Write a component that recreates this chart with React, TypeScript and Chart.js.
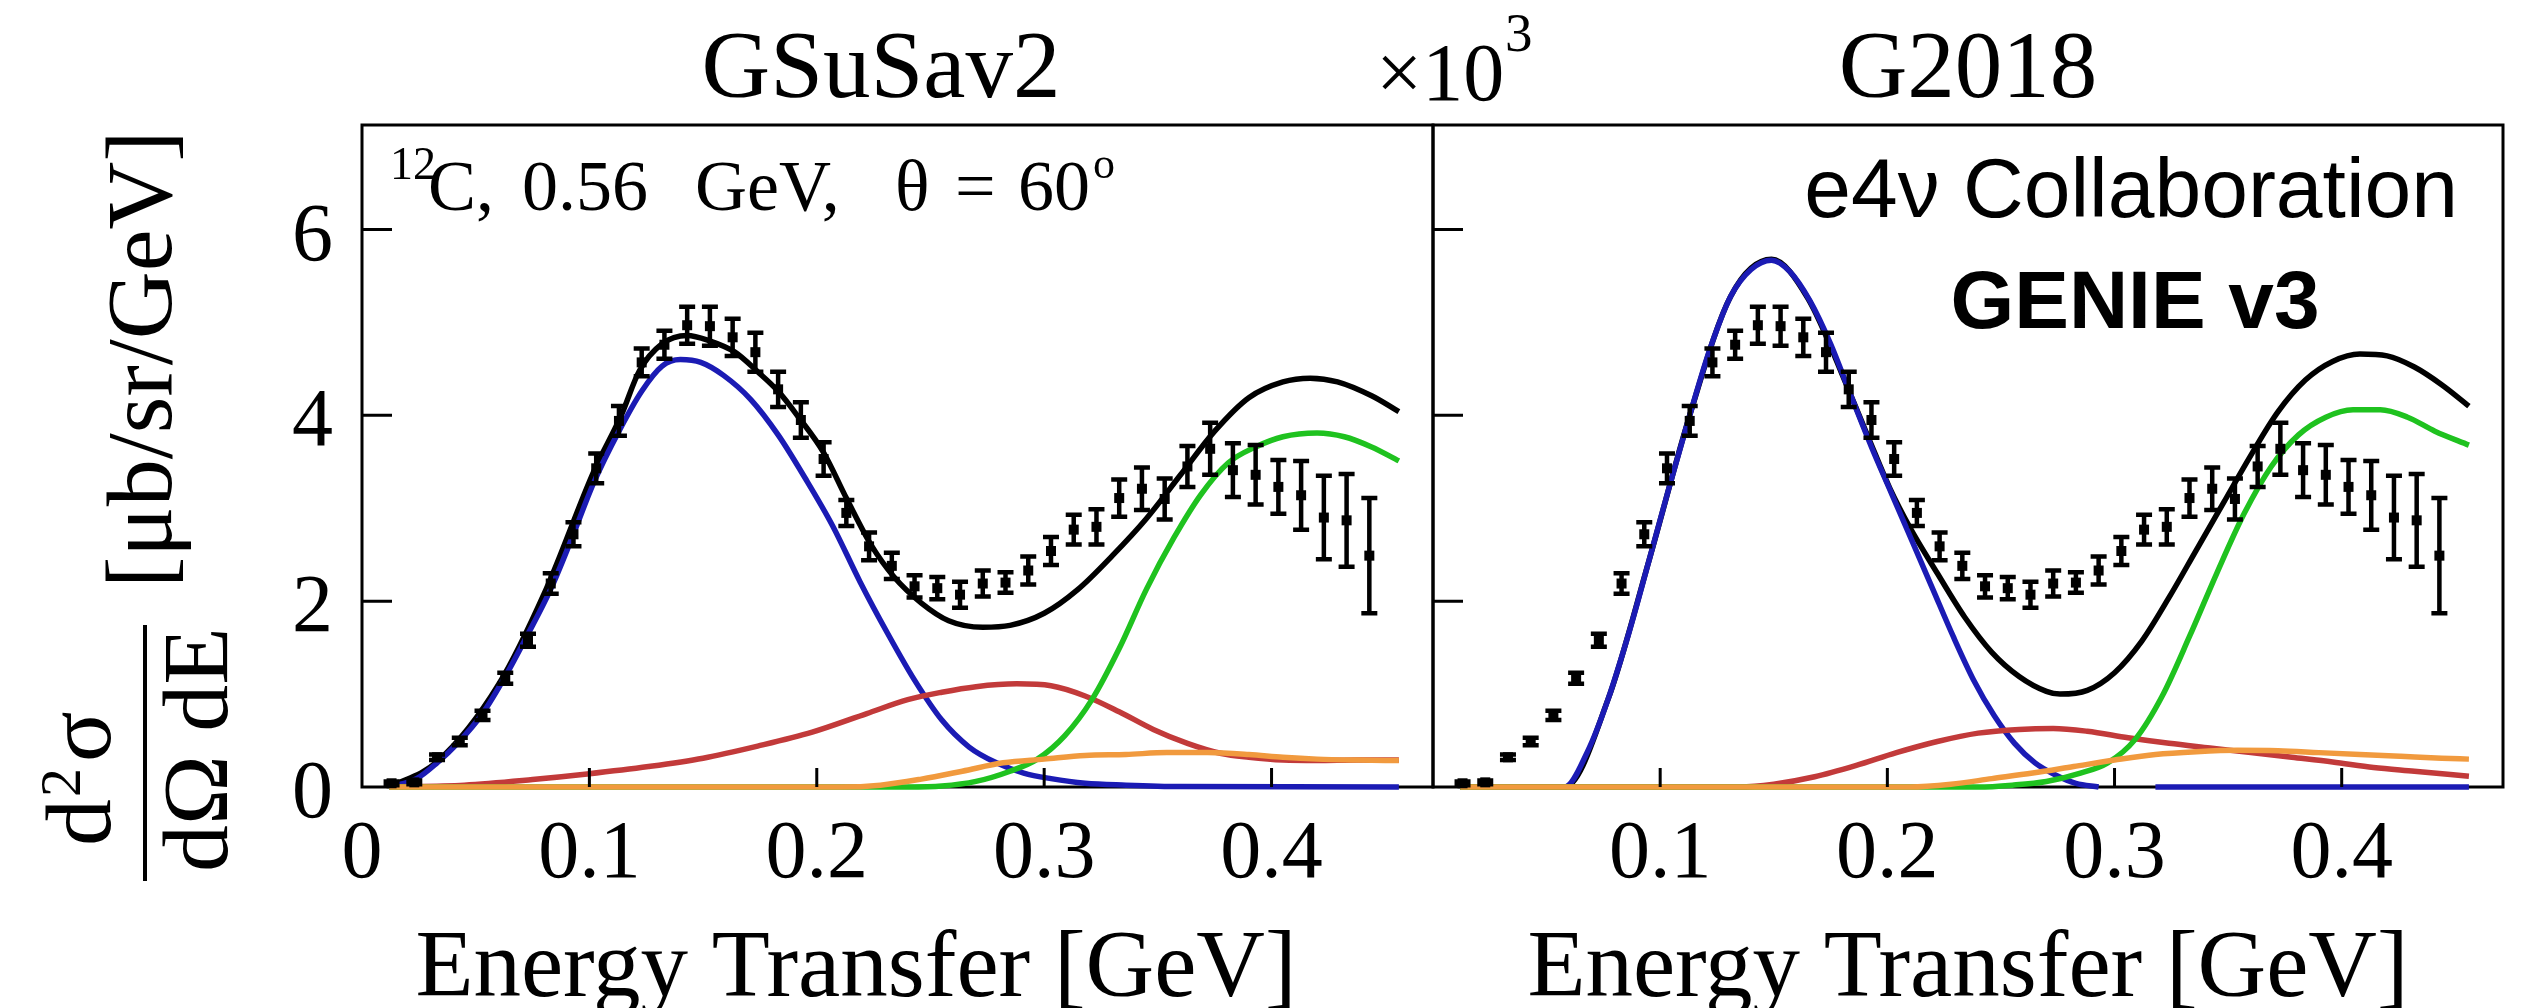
import React, { useEffect, useRef } from 'react';
import { Chart, registerables } from 'chart.js';

Chart.register(...registerables);

const SERIF = '"Liberation Serif", "Times New Roman", serif';
const SANS = '"Liberation Sans", Arial, sans-serif';

// ---- Measured electron-scattering data (same data in both panels) ----
const DATA_E = [
  0.013, 0.023, 0.033, 0.043, 0.053, 0.063, 0.073, 0.083, 0.093, 0.103,
  0.113, 0.123, 0.133, 0.143, 0.153, 0.163, 0.173, 0.183, 0.193, 0.203,
  0.213, 0.223, 0.233, 0.243, 0.253, 0.263, 0.273, 0.283, 0.293, 0.303,
  0.313, 0.323, 0.333, 0.343, 0.353, 0.363, 0.373, 0.383, 0.393, 0.403,
  0.413, 0.423, 0.433, 0.443,
];
const DATA_XS = [
  0.04, 0.05, 0.32, 0.49, 0.77, 1.17, 1.58, 2.19, 2.72, 3.43,
  3.94, 4.57, 4.76, 4.97, 4.96, 4.84, 4.68, 4.28, 3.95, 3.53,
  2.95, 2.59, 2.38, 2.16, 2.14, 2.07, 2.19, 2.2, 2.33, 2.54,
  2.77, 2.8, 3.11, 3.21, 3.1, 3.45, 3.64, 3.41, 3.36, 3.23,
  3.14, 2.9, 2.87, 2.49,
];
const DATA_ERR = [
  0.02, 0.02, 0.03, 0.04, 0.05, 0.06, 0.07, 0.11, 0.13, 0.16,
  0.16, 0.15, 0.15, 0.2, 0.21, 0.2, 0.21, 0.19, 0.19, 0.18,
  0.14, 0.15, 0.14, 0.12, 0.12, 0.14, 0.14, 0.11, 0.15, 0.15,
  0.16, 0.19, 0.2, 0.23, 0.22, 0.22, 0.28, 0.29, 0.32, 0.29,
  0.37, 0.45, 0.5, 0.62,
];

// ---- Axis ticks ----
const X_TICKS = [0, 0.1, 0.2, 0.3, 0.4];
const X_TICK_LABELS = ['0', '0.1', '0.2', '0.3', '0.4'];
const Y_TICKS = [0, 2, 4, 6];
const Y_TICK_LABELS = ['0', '2', '4', '6'];
const X_MAX = 0.471;
const Y_MAX = 7.125;

// ---- GSuSav2 predictions ----
const SUSA_TOT_E = [0.012, 0.033, 0.060, 0.081, 0.102, 0.114, 0.122, 0.132, 0.143, 0.153, 0.164, 0.174, 0.183, 0.192, 0.203, 0.213, 0.224, 0.234, 0.246, 0.258, 0.273, 0.285, 0.300, 0.315, 0.330, 0.345, 0.360, 0.375, 0.390, 0.405, 0.417, 0.429, 0.444, 0.456];
const SUSA_TOT = [0, 0.27, 1.1, 2.13, 3.4, 4.0, 4.48, 4.77, 4.86, 4.8, 4.68, 4.47, 4.26, 3.98, 3.6, 3.11, 2.6, 2.26, 1.98, 1.79, 1.72, 1.74, 1.87, 2.13, 2.49, 2.89, 3.36, 3.83, 4.19, 4.36, 4.4, 4.36, 4.21, 4.04];
const SUSA_QE_E = [0.012, 0.024, 0.033, 0.042, 0.053, 0.063, 0.072, 0.083, 0.092, 0.102, 0.113, 0.123, 0.132, 0.140, 0.149, 0.159, 0.171, 0.183, 0.195, 0.207, 0.219, 0.231, 0.243, 0.255, 0.267, 0.279, 0.291, 0.303, 0.318, 0.336, 0.360, 0.456];
const SUSA_QE = [0, 0.09, 0.26, 0.47, 0.79, 1.19, 1.6, 2.13, 2.66, 3.28, 3.83, 4.26, 4.53, 4.6, 4.57, 4.43, 4.17, 3.79, 3.32, 2.81, 2.21, 1.66, 1.15, 0.72, 0.43, 0.26, 0.15, 0.09, 0.04, 0.02, 0.005, 0];
const SUSA_MEC_E = [0.012, 0.045, 0.075, 0.099, 0.126, 0.150, 0.174, 0.198, 0.222, 0.240, 0.255, 0.270, 0.288, 0.303, 0.318, 0.333, 0.348, 0.363, 0.378, 0.390, 0.405, 0.420, 0.438, 0.456];
const SUSA_MEC = [0, 0.02, 0.08, 0.14, 0.22, 0.31, 0.44, 0.59, 0.79, 0.94, 1.02, 1.08, 1.11, 1.09, 0.98, 0.81, 0.62, 0.47, 0.36, 0.32, 0.29, 0.285, 0.29, 0.29];
const SUSA_RES_E = [0.012, 0.240, 0.255, 0.270, 0.285, 0.297, 0.309, 0.321, 0.333, 0.345, 0.357, 0.369, 0.381, 0.393, 0.405, 0.420, 0.432, 0.444, 0.456];
const SUSA_RES = [0, 0, 0.01, 0.06, 0.17, 0.3, 0.55, 0.94, 1.49, 2.13, 2.68, 3.15, 3.49, 3.66, 3.77, 3.81, 3.77, 3.66, 3.51];
const SUSA_DIS_E = [0.012, 0.210, 0.228, 0.246, 0.264, 0.282, 0.300, 0.318, 0.336, 0.354, 0.372, 0.390, 0.405, 0.420, 0.438, 0.456];
const SUSA_DIS = [0, 0, 0.02, 0.085, 0.17, 0.26, 0.3, 0.34, 0.35, 0.37, 0.37, 0.35, 0.32, 0.3, 0.29, 0.285];

// ---- G2018 predictions ----
const G18_TOT_E = [0.012, 0.058, 0.077, 0.095, 0.113, 0.131, 0.149, 0.165, 0.183, 0.192, 0.201, 0.210, 0.222, 0.234, 0.246, 0.258, 0.270, 0.276, 0.288, 0.300, 0.312, 0.324, 0.336, 0.348, 0.360, 0.372, 0.384, 0.396, 0.408, 0.420, 0.432, 0.444, 0.456];
const G18_TOT = [0, 0, 0.94, 2.43, 4.0, 5.28, 5.68, 5.26, 4.27, 3.74, 3.22, 2.79, 2.3, 1.83, 1.45, 1.19, 1.03, 1.0, 1.04, 1.23, 1.57, 2.04, 2.55, 3.06, 3.57, 4.04, 4.38, 4.58, 4.66, 4.64, 4.52, 4.33, 4.1];
const G18_QE_E = [0.012, 0.058, 0.068, 0.077, 0.086, 0.095, 0.104, 0.113, 0.122, 0.131, 0.140, 0.149, 0.157, 0.166, 0.175, 0.184, 0.193, 0.202, 0.211, 0.220, 0.229, 0.238, 0.247, 0.256, 0.265, 0.274, 0.283, 0.293, 0.305, 0.318, 0.456];
const G18_QE = [0, 0, 0.38, 0.94, 1.64, 2.43, 3.23, 4.0, 4.72, 5.28, 5.57, 5.67, 5.55, 5.23, 4.77, 4.21, 3.66, 3.15, 2.64, 2.13, 1.62, 1.15, 0.77, 0.47, 0.26, 0.13, 0.04, 0, null, 0, 0];
const G18_MEC_E = [0.012, 0.135, 0.150, 0.168, 0.186, 0.204, 0.222, 0.240, 0.258, 0.273, 0.288, 0.306, 0.324, 0.342, 0.360, 0.378, 0.396, 0.414, 0.432, 0.456];
const G18_MEC = [0, 0, 0.03, 0.11, 0.23, 0.37, 0.49, 0.58, 0.62, 0.63, 0.6, 0.53, 0.47, 0.42, 0.37, 0.32, 0.27, 0.21, 0.17, 0.115];
const G18_RES_E = [0.012, 0.240, 0.255, 0.270, 0.285, 0.297, 0.309, 0.321, 0.333, 0.345, 0.357, 0.369, 0.381, 0.393, 0.405, 0.417, 0.429, 0.441, 0.456];
const G18_RES = [0, 0, 0.02, 0.06, 0.15, 0.26, 0.51, 0.98, 1.62, 2.3, 2.94, 3.45, 3.79, 3.98, 4.06, 4.06, 3.98, 3.83, 3.68];
const G18_DIS_E = [0.012, 0.210, 0.228, 0.246, 0.264, 0.282, 0.300, 0.318, 0.336, 0.354, 0.372, 0.390, 0.408, 0.426, 0.444, 0.456];
const G18_DIS = [0, 0, 0.03, 0.09, 0.15, 0.22, 0.29, 0.35, 0.38, 0.395, 0.39, 0.37, 0.35, 0.33, 0.31, 0.3];

const COLOR_TOTAL = '#000000';
const COLOR_QE = '#1b1bb4';
const COLOR_MEC = '#c23a3a';
const COLOR_RES = '#1fc21f';
const COLOR_DIS = '#f19a3e';

// Page geometry of the two frames
const FRAME_TOP = 125;
const FRAME_BOTTOM = 787;
const PAGE_W = 2535;
const PAGE_H = 1008;

type Curve = { label: string; e: number[]; v: (number | null)[]; color: string; order: number };

type PanelSpec = {
  left: number;
  width: number;
  areaLeft: number;
  areaRight: number;
  curves: Curve[];
  xLabels: string[];
  yLabels: boolean;
  decorate: (ctx: CanvasRenderingContext2D, ox: number, chart: any) => void;
};

function txt(
  ctx: CanvasRenderingContext2D,
  s: string,
  x: number,
  y: number,
  font: string,
  align: CanvasTextAlign = 'left'
) {
  ctx.font = font;
  ctx.textAlign = align;
  ctx.textBaseline = 'alphabetic';
  ctx.fillStyle = '#000';
  ctx.fillText(s, x, y);
}

function drawYTitle(ctx: CanvasRenderingContext2D) {
  ctx.save();
  ctx.fillStyle = '#000';
  // unit part
  ctx.save();
  ctx.translate(171, 588);
  ctx.rotate(-Math.PI / 2);
  txt(ctx, '[μb/sr/GeV]', 0, 0, `94px ${SERIF}`);
  ctx.restore();
  // numerator d²σ
  ctx.save();
  ctx.translate(110, 846);
  ctx.rotate(-Math.PI / 2);
  ctx.font = `94px ${SERIF}`;
  const wd = ctx.measureText('d').width;
  txt(ctx, 'd', 0, 0, `94px ${SERIF}`);
  txt(ctx, '2', wd + 2, -30, `58px ${SERIF}`);
  ctx.font = `58px ${SERIF}`;
  const w2 = ctx.measureText('2').width;
  txt(ctx, 'σ', wd + w2 + 8, 0, `94px ${SERIF}`);
  ctx.restore();
  // fraction bar
  ctx.fillRect(143, 625, 4, 256);
  // denominator dΩ dE
  ctx.save();
  ctx.translate(227, 872);
  ctx.rotate(-Math.PI / 2);
  txt(ctx, 'dΩ dE', 0, 0, `94px ${SERIF}`);
  ctx.restore();
  ctx.restore();
}

function panelPlugin(spec: PanelSpec) {
  return {
    id: 'panelDecor',
    beforeDatasetsDraw(chart: any) {
      const { ctx, chartArea: a } = chart;
      ctx.save();
      ctx.strokeStyle = '#000';
      ctx.lineWidth = 3;
      ctx.strokeRect(a.left, a.top, a.right - a.left, a.bottom - a.top);
      ctx.restore();
    },
    afterDatasetsDraw(chart: any) {
      const { ctx, chartArea: a, scales } = chart;
      const xs = scales.x;
      const ys = scales.y;
      ctx.save();
      ctx.strokeStyle = '#000';
      ctx.lineWidth = 3;
      ctx.beginPath();
      Y_TICKS.forEach((v) => {
        if (v === 0) return;
        const p = ys.getPixelForValue(v);
        ctx.moveTo(a.left, p);
        ctx.lineTo(a.left + 30, p);
      });
      X_TICKS.forEach((v) => {
        if (v === 0) return;
        const p = xs.getPixelForValue(v);
        ctx.moveTo(p, a.bottom);
        ctx.lineTo(p, a.bottom - 19);
      });
      ctx.stroke();

      // data points with vertical error bars
      ctx.fillStyle = '#000';
      ctx.lineWidth = 4.5;
      DATA_E.forEach((e, i) => {
        const px = xs.getPixelForValue(e);
        const py = ys.getPixelForValue(DATA_XS[i]);
        const top = ys.getPixelForValue(DATA_XS[i] + DATA_ERR[i]);
        const bot = ys.getPixelForValue(DATA_XS[i] - DATA_ERR[i]);
        ctx.beginPath();
        ctx.moveTo(px, top);
        ctx.lineTo(px, bot);
        ctx.moveTo(px - 8, top);
        ctx.lineTo(px + 8, top);
        ctx.moveTo(px - 8, bot);
        ctx.lineTo(px + 8, bot);
        ctx.stroke();
        ctx.fillRect(px - 5, py - 5, 10, 10);
      });
      ctx.restore();
    },
    afterDraw(chart: any) {
      const { ctx, chartArea: a, scales } = chart;
      ctx.save();
      X_TICKS.forEach((v, i) => {
        const s = spec.xLabels[i];
        if (!s) return;
        txt(ctx, s, scales.x.getPixelForValue(v), 877, `82px ${SERIF}`, 'center');
      });
      if (spec.yLabels) {
        Y_TICKS.forEach((v, i) => {
          txt(ctx, Y_TICK_LABELS[i], a.left - 29, scales.y.getPixelForValue(v) + 30, `82px ${SERIF}`, 'right');
        });
      }
      spec.decorate(ctx, spec.left, chart);
      ctx.restore();
    },
  };
}

function makeChart(canvas: HTMLCanvasElement, spec: PanelSpec) {
  return new Chart(canvas, {
    type: 'line',
    data: {
      datasets: spec.curves.map((c) => ({
        label: c.label,
        data: c.e.map((x, i) => ({ x, y: c.v[i] })),
        borderColor: c.color,
        backgroundColor: c.color,
        borderWidth: 5.5,
        pointRadius: 0,
        pointHoverRadius: 0,
        fill: false,
        cubicInterpolationMode: 'monotone',
        spanGaps: false,
        clip: false,
        order: c.order,
      })),
    } as any,
    options: {
      responsive: false,
      animation: false,
      devicePixelRatio: 1,
      events: [],
      layout: {
        padding: {
          left: spec.areaLeft - spec.left,
          right: spec.left + spec.width - spec.areaRight,
          top: FRAME_TOP,
          bottom: PAGE_H - FRAME_BOTTOM,
        },
      },
      scales: {
        x: { type: 'linear', display: false, min: 0, max: X_MAX },
        y: { type: 'linear', display: false, min: 0, max: Y_MAX },
      },
      plugins: { legend: { display: false }, tooltip: { enabled: false } },
    } as any,
    plugins: [panelPlugin(spec) as any],
  });
}

const LEFT_PANEL: PanelSpec = {
  left: 0,
  width: 1440,
  areaLeft: 362,
  areaRight: 1433,
  xLabels: X_TICK_LABELS,
  yLabels: true,
  curves: [
    { label: 'Total', e: SUSA_TOT_E, v: SUSA_TOT, color: COLOR_TOTAL, order: 5 },
    { label: 'QE', e: SUSA_QE_E, v: SUSA_QE, color: COLOR_QE, order: 4 },
    { label: 'MEC', e: SUSA_MEC_E, v: SUSA_MEC, color: COLOR_MEC, order: 3 },
    { label: 'RES', e: SUSA_RES_E, v: SUSA_RES, color: COLOR_RES, order: 2 },
    { label: 'DIS', e: SUSA_DIS_E, v: SUSA_DIS, color: COLOR_DIS, order: 1 },
  ],
  decorate(ctx, ox) {
    txt(ctx, 'GSuSav2', 881 - ox, 97, `95px ${SERIF}`, 'center');
    // target, beam energy and angle
    const f = `72px ${SERIF}`;
    txt(ctx, '12', 390 - ox, 179, `46px ${SERIF}`);
    txt(ctx, 'C,', 428 - ox, 210, f);
    txt(ctx, '0.56', 522 - ox, 210, f);
    txt(ctx, 'GeV,', 695 - ox, 210, f);
    txt(ctx, 'θ', 895 - ox, 210, f);
    txt(ctx, '=', 955 - ox, 210, f);
    txt(ctx, '60', 1018 - ox, 210, f);
    ctx.font = f;
    const w60 = ctx.measureText('60').width;
    txt(ctx, 'o', 1018 + w60 + 3 - ox, 178, `44px ${SERIF}`);
    txt(ctx, 'Energy Transfer [GeV]', 856 - ox, 996, `95px ${SERIF}`, 'center');
    drawYTitle(ctx);
  },
};

const RIGHT_PANEL: PanelSpec = {
  left: 1300,
  width: PAGE_W - 1300,
  areaLeft: 1433,
  areaRight: 2503,
  xLabels: ['', '0.1', '0.2', '0.3', '0.4'],
  yLabels: false,
  curves: [
    { label: 'Total', e: G18_TOT_E, v: G18_TOT, color: COLOR_TOTAL, order: 5 },
    { label: 'QE', e: G18_QE_E, v: G18_QE, color: COLOR_QE, order: 4 },
    { label: 'MEC', e: G18_MEC_E, v: G18_MEC, color: COLOR_MEC, order: 3 },
    { label: 'RES', e: G18_RES_E, v: G18_RES, color: COLOR_RES, order: 2 },
    { label: 'DIS', e: G18_DIS_E, v: G18_DIS, color: COLOR_DIS, order: 1 },
  ],
  decorate(ctx, ox) {
    txt(ctx, '×10', 1376 - ox, 100, `82px ${SERIF}`);
    txt(ctx, '3', 1505 - ox, 51, `55px ${SERIF}`);
    txt(ctx, 'G2018', 1968 - ox, 97, `95px ${SERIF}`, 'center');
    txt(ctx, 'e4ν Collaboration', 2458 - ox, 217, `84px ${SANS}`, 'right');
    txt(ctx, 'GENIE v3', 2135 - ox, 328, `bold 82px ${SANS}`, 'center');
    txt(ctx, 'Energy Transfer [GeV]', 1968 - ox, 996, `95px ${SERIF}`, 'center');
  },
};

export default function App() {
  const leftRef = useRef<HTMLCanvasElement>(null);
  const rightRef = useRef<HTMLCanvasElement>(null);

  useEffect(() => {
    const charts: Chart[] = [];
    if (leftRef.current) charts.push(makeChart(leftRef.current, LEFT_PANEL));
    if (rightRef.current) charts.push(makeChart(rightRef.current, RIGHT_PANEL));
    return () => charts.forEach((c) => c.destroy());
  }, []);

  return (
    <div
      style={{
        position: 'fixed',
        left: 0,
        top: 0,
        width: PAGE_W,
        height: PAGE_H,
        background: '#ffffff',
        overflow: 'hidden',
      }}
    >
      <canvas
        ref={leftRef}
        width={LEFT_PANEL.width}
        height={PAGE_H}
        style={{ position: 'absolute', left: LEFT_PANEL.left, top: 0, width: LEFT_PANEL.width, height: PAGE_H }}
      />
      <canvas
        ref={rightRef}
        width={RIGHT_PANEL.width}
        height={PAGE_H}
        style={{ position: 'absolute', left: RIGHT_PANEL.left, top: 0, width: RIGHT_PANEL.width, height: PAGE_H }}
      />
    </div>
  );
}
